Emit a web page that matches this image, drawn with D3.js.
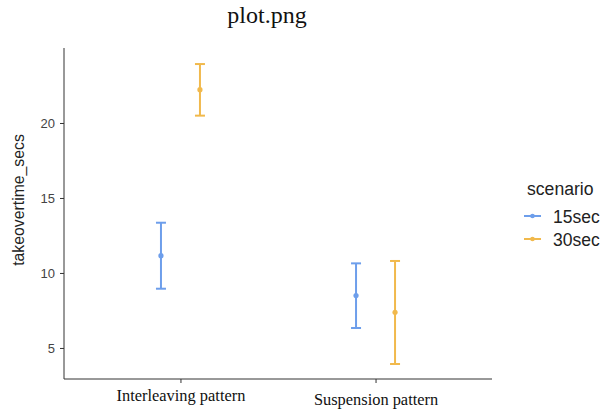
<!DOCTYPE html>
<html><head><meta charset="utf-8">
<script src="https://cdn.jsdelivr.net/npm/d3@7"></script>
<style>body{margin:0;background:#fff}</style>
</head><body>
<svg id="c" width="605" height="411"></svg>
<script>
const categories = ["Interleaving pattern", "Suspension pattern"];
const scenarios = ["15sec", "30sec"];
const colors = ["#6d9eeb", "#f1b94c"];
const mean15 = [11.15, 8.49];
const low15 = [8.95, 6.33];
const high15 = [13.35, 10.64];
const mean30 = [22.22, 7.38];
const low30 = [20.49, 3.93];
const high30 = [23.93, 10.8];
const yTicks = [5, 10, 15, 20];

const svg = d3.select("#c");
const L = 64, R = 492, T = 48, B = 379;
const y = d3.scaleLinear().domain([2.93, 25]).range([B, T]);
const x = d3.scalePoint().domain(categories).range([L, R]).padding(0.597);
const xs = d3.scalePoint().domain(scenarios).range([-19.5, 19.5]);

const series = [
  {name: "15sec", mean: mean15, low: low15, high: high15},
  {name: "30sec", mean: mean30, low: low30, high: high30}
];

// title
svg.append("text").attr("x", 267).attr("y", 23).attr("text-anchor", "middle")
  .attr("font-family", "Liberation Serif, serif").attr("font-size", 24).attr("fill", "#111").text("plot.png");

// axes
const yAxis = svg.append("g").attr("transform", `translate(${L},0)`)
  .call(d3.axisLeft(y).tickValues(yTicks).tickSize(4).tickPadding(5).tickSizeOuter(0));
yAxis.select(".domain").attr("stroke", "#333").attr("d", `M0,${T}V${B}`);
yAxis.selectAll(".tick line").attr("stroke", "#333");
yAxis.selectAll(".tick text").attr("font-family", "Liberation Sans, Arial, sans-serif").attr("font-size", 13).attr("fill", "#444");

const xAxis = svg.append("g").attr("transform", `translate(0,${B})`)
  .call(d3.axisBottom(x).tickSize(4).tickSizeOuter(0));
xAxis.select(".domain").attr("stroke", "#333").attr("d", `M${L},0H${R}`);
xAxis.selectAll(".tick line").attr("stroke", "#333");
xAxis.selectAll(".tick text")
  .attr("font-family", "Liberation Serif, serif").attr("font-size", 16.4).attr("fill", "#111")
  .attr("dy", null).attr("y", (d, i) => i === 0 ? 22 : 26);

// y title
svg.append("text").attr("transform", "translate(24,200) rotate(-90)").attr("text-anchor", "middle")
  .attr("font-family", "Liberation Sans, Arial, sans-serif").attr("font-size", 15.8).attr("fill", "#222")
  .text("takeovertime_secs");

// error bars
const g = svg.append("g");
series.forEach((s, si) => {
  categories.forEach((c, ci) => {
    const cx = x(c) + xs(s.name);
    const col = colors[si];
    g.append("line").attr("x1", cx).attr("x2", cx).attr("y1", y(s.low[ci])).attr("y2", y(s.high[ci]))
      .attr("stroke", col).attr("stroke-width", 2);
    [s.low[ci], s.high[ci]].forEach(v => {
      g.append("line").attr("x1", cx - 5).attr("x2", cx + 5).attr("y1", y(v)).attr("y2", y(v))
        .attr("stroke", col).attr("stroke-width", 2);
    });
    g.append("circle").attr("cx", cx).attr("cy", y(s.mean[ci])).attr("r", 2.6).attr("fill", col);
  });
});

// legend
const lg = svg.append("g");
lg.append("text").attr("x", 527).attr("y", 195).attr("font-family", "Liberation Sans, Arial, sans-serif")
  .attr("font-size", 17.6).attr("fill", "#222").text("scenario");
scenarios.forEach((s, i) => {
  const yy = 216 + i * 23;
  lg.append("line").attr("x1", 524).attr("x2", 541).attr("y1", yy).attr("y2", yy)
    .attr("stroke", colors[i]).attr("stroke-width", 2);
  lg.append("circle").attr("cx", 532.5).attr("cy", yy).attr("r", 2.3).attr("fill", colors[i]);
  lg.append("text").attr("x", 553).attr("y", yy + 7).attr("font-family", "Liberation Sans, Arial, sans-serif")
    .attr("font-size", 17.5).attr("fill", "#222").text(s);
});
</script>
</body></html>
